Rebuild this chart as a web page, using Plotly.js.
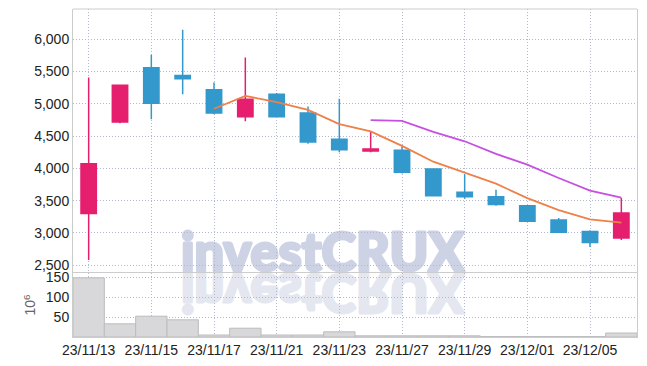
<!DOCTYPE html>
<html>
<head>
<meta charset="utf-8">
<script src="https://cdn.plot.ly/plotly-3.0.1.min.js"></script>
<style>
  html, body { margin: 0; padding: 0; background: #ffffff; }
  #wrap { position: relative; width: 647px; height: 366px; }
  #wm { position: absolute; left: 0; top: 0; width: 647px; height: 366px; z-index: 0; }
  #chart { position: absolute; left: 0; top: 0; width: 647px; height: 366px; z-index: 1; }
</style>
</head>
<body>
<div id="wrap">
  <svg id="wm" width="647" height="366" xmlns="http://www.w3.org/2000/svg">
    <text id="wmMain" x="181" y="271" textLength="283" lengthAdjust="spacingAndGlyphs"
      font-family="Lato, Roboto, sans-serif" font-weight="900" font-size="54" fill="#cdd3e5"
      stroke="#cdd3e5" stroke-width="3" stroke-linejoin="round">investCRUX</text>
    <text id="wmRefl" x="181" y="271" textLength="283" lengthAdjust="spacingAndGlyphs" transform="translate(0,545) scale(1,-1)"
      font-family="Lato, Roboto, sans-serif" font-weight="900" font-size="54" fill="#e4e7f0"
      stroke="#e4e7f0" stroke-width="3" stroke-linejoin="round">investCRUX</text>
  </svg>
  <div id="chart"></div>
</div>
<script>
const categories = ["23/11/13","23/11/14","23/11/15","23/11/16","23/11/17","23/11/20","23/11/21","23/11/22","23/11/23","23/11/24","23/11/27","23/11/28","23/11/29","23/11/30","23/12/01","23/12/04","23/12/05","23/12/06"];
const tickLabels = ["23/11/13","23/11/15","23/11/17","23/11/21","23/11/23","23/11/27","23/11/29","23/12/01","23/12/05"];
const openPrices  = [3300, 4720, 5560, 5440, 5220, 4800, 5150, 4860, 4450, 4270, 4280, 3990, 3630, 3560, 3420, 3200, 3020, 2920];
const highPrices  = [5410, 5290, 5760, 6150, 5330, 5720, 5170, 4960, 5080, 4570, 4340, 4000, 3910, 3670, 3430, 3230, 3040, 3540];
const lowPrices   = [2580, 4700, 4760, 5150, 4840, 4730, 4790, 4380, 4250, 4250, 3920, 3570, 3530, 3420, 3170, 3000, 2780, 2890];
const closePrices = [4070, 5290, 5010, 5390, 4860, 5070, 4800, 4410, 4290, 4300, 3940, 3575, 3560, 3440, 3180, 3010, 2850, 3310];
const ma5  = [null, null, null, null, 4924, 5124, 5026, 4906, 4686, 4574, 4348, 4103, 3933, 3763, 3539, 3353, 3208, 3158];
const ma10 = [null, null, null, null, null, null, null, null, null, 4749, 4736, 4565, 4420, 4225, 4057, 3851, 3656, 3546];
const volumeMillions = [148, 33, 52, 43, 5, 22, 5, 5, 13, 3, 3, 3, 3, 1, 1, 1, 1, 10];
const priceTicks = [2500, 3000, 3500, 4000, 4500, 5000, 5500, 6000];
const volumeTicks = [50, 100, 150];

const FONT = "Liberation Sans, Arial, sans-serif";
const GRID = "#b3b8cc";
const GRIDDASH = "1px,2px";
const LINE = "#cccccc";

const traces = [
  {
    type: "bar", x: categories, y: volumeMillions, xaxis: "x", yaxis: "y2",
    marker: { color: "#d8d8da", line: { color: "#bcbcbe", width: 1 } },
    hoverinfo: "skip"
  },
  {
    type: "candlestick", x: categories, open: openPrices, high: highPrices, low: lowPrices, close: closePrices,
    xaxis: "x", yaxis: "y",
    increasing: { line: { color: "#e61e6e", width: 1.5 }, fillcolor: "#e61e6e" },
    decreasing: { line: { color: "#3399cc", width: 1.5 }, fillcolor: "#3399cc" },
    whiskerwidth: 0, hoverinfo: "skip"
  },
  {
    type: "scatter", mode: "lines", x: categories, y: ma5, xaxis: "x", yaxis: "y",
    line: { color: "#ee8048", width: 1.8 }, connectgaps: false, hoverinfo: "skip"
  },
  {
    type: "scatter", mode: "lines", x: categories, y: ma10, xaxis: "x", yaxis: "y",
    line: { color: "#c650e0", width: 1.8 }, connectgaps: false, hoverinfo: "skip"
  }
];

const layout = {
  width: 647, height: 366,
  margin: { l: 73, r: 10, t: 9, b: 29, pad: 0 },
  paper_bgcolor: "rgba(0,0,0,0)", plot_bgcolor: "rgba(0,0,0,0)",
  showlegend: false,
  bargap: 0,
  boxgap: 0.3,
  font: { family: FONT, size: 14, color: "#333333" },
  xaxis: {
    type: "category", anchor: "y2", rangeslider: { visible: false },
    tickmode: "array", tickvals: tickLabels, ticktext: tickLabels,
    showgrid: true, gridcolor: GRID, griddash: GRIDDASH, gridwidth: 1,
    showline: true, linecolor: LINE, linewidth: 1, mirror: true,
    ticks: "", tickfont: { family: FONT, size: 14, color: "#222222" },
    zeroline: false, fixedrange: true
  },
  yaxis: {
    domain: [0.198, 1], range: [2393, 6470],
    tickmode: "array", tickvals: priceTicks, tickformat: ",",
    showgrid: true, gridcolor: GRID, griddash: GRIDDASH, gridwidth: 1,
    showline: true, linecolor: LINE, linewidth: 1, mirror: true,
    ticks: "", tickfont: { family: FONT, size: 14, color: "#222222" },
    zeroline: false, fixedrange: true
  },
  yaxis2: {
    domain: [0, 0.195], range: [0, 160],
    tickmode: "array", tickvals: volumeTicks,
    showgrid: true, gridcolor: GRID, griddash: GRIDDASH, gridwidth: 1,
    showline: true, linecolor: LINE, linewidth: 1, mirror: true,
    ticks: "", tickfont: { family: FONT, size: 14, color: "#222222" },
    title: { text: "10<sup>6</sup>", font: { family: FONT, size: 14, color: "#666666" }, standoff: 6 },
    zeroline: false, fixedrange: true
  },
  shapes: [
    { type: "line", xref: "paper", yref: "paper", x0: 0, x1: 1, y0: 1, y1: 1, line: { color: LINE, width: 1 } }
  ]
};

Plotly.newPlot("chart", traces, layout, { displayModeBar: false, staticPlot: true });
</script>
</body>
</html>
